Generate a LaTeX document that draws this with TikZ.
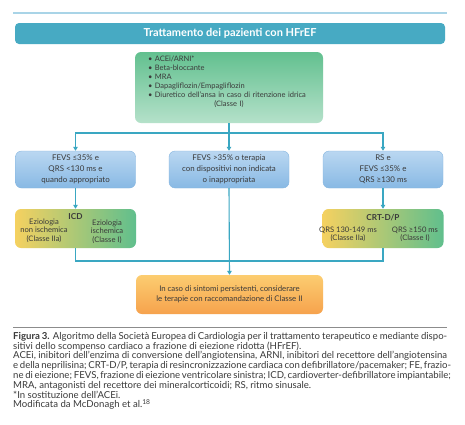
\documentclass[tikz,border=0pt]{standalone}
\usepackage{fontspec}
\setmainfont{Lato}
\usetikzlibrary{arrows.meta}
\definecolor{conn}{HTML}{3AA7C2}
\definecolor{titlec}{HTML}{47AAC3}
\definecolor{topline}{HTML}{A9D4E7}
\definecolor{txt}{HTML}{3A3A3A}
\definecolor{bluetop}{HTML}{BAD7F1}
\definecolor{bluebot}{HTML}{88B9E4}
\definecolor{blueedge}{HTML}{86B6E0}
\definecolor{greentop}{HTML}{62C08F}
\definecolor{greenbot}{HTML}{B5E1CA}
\definecolor{yel}{HTML}{F5D160}
\definecolor{grn}{HTML}{60BF8D}
\definecolor{ortop}{HTML}{FCCD70}
\definecolor{orbot}{HTML}{F6A24D}
\definecolor{rulec}{HTML}{8C8C8C}
\newcommand{\jline}[1]{\makebox[434pt][s]{#1}}
\begin{document}
\begin{tikzpicture}[x=1pt,y=-1pt,
  box/.style={rounded corners=6pt, inner sep=0pt, align=center, text=txt},
  bluebox/.style={box, top color=bluetop, bottom color=bluebot, draw=blueedge, line width=0.4pt,
     minimum width=120pt, minimum height=37pt, font=\fontsize{7.9}{10.8}\selectfont},
  devbox/.style={box, left color=yel, right color=grn, minimum width=121pt, minimum height=39pt},
  coltext/.style={inner sep=0pt, align=center, text=txt, font=\fontsize{7.6}{8.4}\selectfont},
  conn/.style={draw=conn, line width=1.1pt},
  arr/.style={conn, -{Triangle[length=4pt,width=4.5pt]}},
  caption/.style={inner sep=0pt, align=left, text=txt,
     font=\fontsize{9.6}{9.8}\selectfont}
]
\useasboundingbox (0,0) rectangle (465,424);
\fill[white] (0,0) rectangle (465,424);

\draw[topline, line width=2.6pt] (13,13) -- (447,13);

\node[rounded corners=4pt, fill=titlec, text=white, minimum width=430pt, minimum height=21pt,
  inner sep=0pt, font=\fontsize{11}{12}\selectfont\bfseries] (title) at (230,33.5)
  {Trattamento dei pazienti con HFrEF};

% green box
\node[box, top color=greentop, bottom color=greenbot, minimum width=188pt, minimum height=71pt]
  (gbox) at (229,87.5) {};
\node[inner sep=0pt, text width=162pt, align=left, text=txt, anchor=north,
  font=\fontsize{7.5}{8.9}\selectfont] (gtext) at (229,56)
  {\textbullet\ ACEi/ARNI*\\
   \textbullet\ Beta-bloccante\\
   \textbullet\ MRA\\
   \textbullet\ Dapagliflozin/Empagliflozin\\
   \textbullet\ Diuretico dell'ansa in caso di ritenzione idrica\\
   \hfill(Classe I)\hfill\null};

% blue boxes
\node[bluebox] (b1) at (75.5,169.5) {FEVS ≤35\% e\\QRS <130 ms e\\quando appropriato};
\node[bluebox] (b2) at (229,169.5) {FEVS >35\% o terapia\\con dispositivi non indicata\\o inappropriata};
\node[bluebox] (b3) at (383,169.5) {RS e\\FEVS ≤35\% e\\QRS ≥130 ms};

% device boxes
\node[devbox] (icd) at (75.5,228.5) {};
\node[coltext, font=\fontsize{8.2}{9}\selectfont\bfseries] (icdt) at (75.5,216.5) {ICD};
\node[coltext] (icdl) at (44,230.5) {Eziologia\\non ischemica\\(Classe IIa)};
\node[coltext] (icdr) at (107,231.5) {Eziologia\\ischemica\\(Classe I)};

\node[devbox] (crt) at (383,228.5) {};
\node[coltext, font=\fontsize{8.2}{9}\selectfont\bfseries] (crtt) at (383,218) {CRT-D/P};
\node[coltext] (crtl) at (348,234) {QRS 130-149 ms\\(Classe IIa)};
\node[coltext] (crtr) at (415,234) {QRS ≥150 ms\\(Classe I)};

% orange box
\node[box, top color=ortop, bottom color=orbot, minimum width=187pt, minimum height=39pt,
  font=\fontsize{7.8}{10.2}\selectfont] (ob) at (229.5,294.5)
  {In caso di sintomi persistenti, considerare\\le terapie con raccomandazione di Classe II};

% connectors
\coordinate (j1) at (229,133);
\coordinate (j2) at (229,261);
\draw[conn] (gbox.south) -- (j1);
\draw[arr] (j1) -| (b1.north);
\draw[arr] (j1) -| (b3.north);
\draw[arr] (j1) -- (b2.north);
\draw[arr] (b1.south) -- (icd.north);
\draw[arr] (b3.south) -- (crt.north);
\draw[conn] (icd.south) |- (j2);
\draw[conn] (crt.south) |- (j2);
\draw[arr] (b2.south) -- (ob.north);

% caption
\draw[rulec, line width=0.5pt] (13,327) -- (447,327);
\node[caption, anchor=north west] (cap) at (13,332)
{\jline{\textbf{Figura 3.} Algoritmo della Società Europea di Cardiologia per il trattamento terapeutico e mediante dispo-}\\
sitivi dello scompenso cardiaco a frazione di eiezione ridotta (HFrEF).\\
\jline{ACEi, inibitori dell’enzima di conversione dell’angiotensina, ARNI, inibitori del recettore dell’angiotensina}\\
\jline{e della neprilisina; CRT-D/P, terapia di resincronizzazione cardiaca con defibrillatore/pacemaker; FE, frazio-}\\
\jline{ne di eiezione; FEVS, frazione di eiezione ventricolare sinistra; ICD, cardioverter-defibrillatore impiantabile;}\\
MRA, antagonisti del recettore dei mineralcorticoidi; RS, ritmo sinusale.\\
*In sostituzione dell’ACEi.\\
Modificata da McDonagh et al.\textsuperscript{18}};
\end{tikzpicture}
\end{document}
